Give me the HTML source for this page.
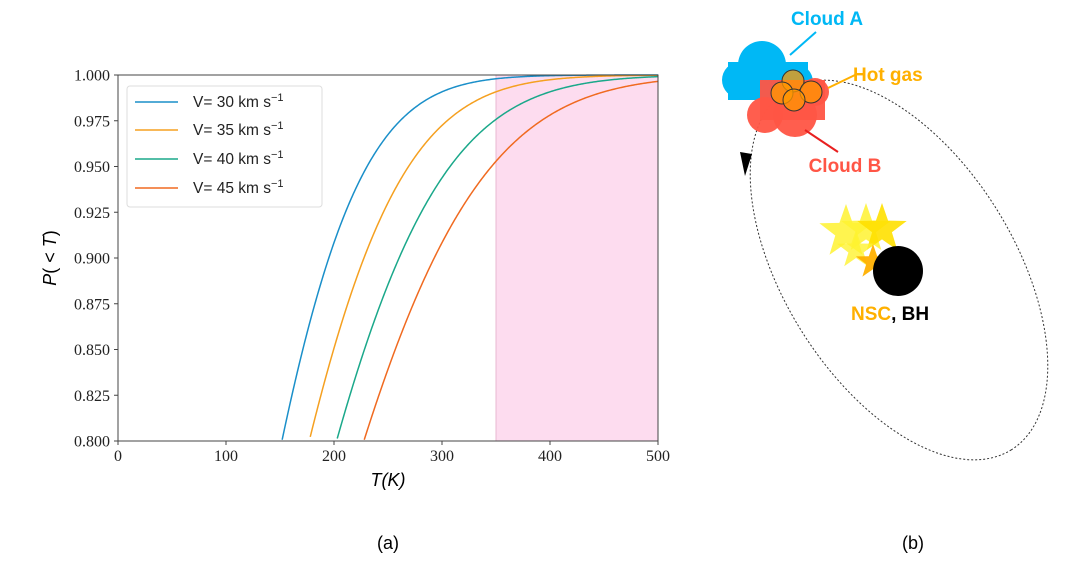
<!DOCTYPE html>
<html><head><meta charset="utf-8"><style>
body{margin:0;background:#fff;}
.serif{font-family:"Liberation Serif",serif;}
.s,.s text{font-family:"Liberation Sans","DejaVu Sans",sans-serif;}
</style></head><body>
<svg id="g" width="1080" height="565" viewBox="0 0 1080 565" xmlns="http://www.w3.org/2000/svg">
<rect width="1080" height="565" fill="#fff"/>
<rect x="496" y="75" width="162" height="366" fill="#fddcef"/>
<line x1="496" y1="75" x2="496" y2="441" stroke="#e8b8d0" stroke-width="1"/>
<g id="curves" fill="none" stroke-width="1.5"></g>
<rect x="118" y="75" width="540" height="366" fill="none" stroke="#444" stroke-width="1"/>
<g id="ticks" stroke="#444" stroke-width="1"></g>
<g id="labels" font-size="16" fill="#222" class="serif"></g>
<text x="388" y="486" font-size="18" text-anchor="middle" font-style="italic" class="s">T(K)</text>
<text transform="translate(56,258) rotate(-90)" font-size="18" text-anchor="middle" class="s"><tspan font-style="italic">P</tspan>( &lt; <tspan font-style="italic">T</tspan>)</text>
<rect x="127" y="86" width="195" height="121" rx="3" fill="#fff" fill-opacity="0.85" stroke="#ddd"/>
<g class="s" font-size="15.5" fill="#222">
<line x1="135" y1="102" x2="178" y2="102" stroke="#1a8fc9" stroke-width="1.5"/><text x="193" y="107">V= 30 km s<tspan dy="-6" font-size="11">−1</tspan></text>
<line x1="135" y1="130" x2="178" y2="130" stroke="#f5a020" stroke-width="1.5"/><text x="193" y="135">V= 35 km s<tspan dy="-6" font-size="11">−1</tspan></text>
<line x1="135" y1="159" x2="178" y2="159" stroke="#1aa88a" stroke-width="1.5"/><text x="193" y="164">V= 40 km s<tspan dy="-6" font-size="11">−1</tspan></text>
<line x1="135" y1="188" x2="178" y2="188" stroke="#f06a20" stroke-width="1.5"/><text x="193" y="193">V= 45 km s<tspan dy="-6" font-size="11">−1</tspan></text>
</g>
<text x="388" y="549" font-size="18" text-anchor="middle" class="s">(a)</text>
<text x="913" y="549" font-size="18" text-anchor="middle" class="s">(b)</text>

<!-- panel b -->
<ellipse cx="899" cy="270" rx="212" ry="115" transform="rotate(58 899 270)" fill="none" stroke="#333" stroke-width="1" stroke-dasharray="2,2"/>
<polygon points="745,176 740,152 752,154" fill="#000"/>
<g fill="#00b8f5">
<circle cx="762" cy="65" r="24"/><circle cx="740" cy="80" r="18"/><circle cx="795" cy="82" r="18"/><rect x="728" y="62" width="80" height="38"/>
</g>
<line x1="790" y1="55" x2="816" y2="32" stroke="#00b8f5" stroke-width="2"/>
<g fill="#ff5545" fill-opacity="0.95">
<circle cx="765" cy="115" r="18"/><circle cx="795" cy="115" r="22"/><circle cx="815" cy="92" r="14"/><rect x="760" y="80" width="65" height="40"/>
</g>
<line x1="805" y1="130" x2="838" y2="152" stroke="#e82020" stroke-width="2"/>
<line x1="828" y1="88" x2="855" y2="75" stroke="#ffb000" stroke-width="2"/>
<g fill="#ff9800" fill-opacity="0.75" stroke="#333" stroke-width="1">
<circle cx="793" cy="81" r="11"/><circle cx="782" cy="93" r="11"/><circle cx="811" cy="92" r="11"/><circle cx="794" cy="100" r="11"/>
</g>
<g id="stars"></g>
<circle cx="898" cy="271" r="25" fill="#000"/>
<g class="s" font-weight="bold" font-size="19">
<text x="827" y="25" text-anchor="middle" fill="#00b8f5">Cloud A</text>
<text x="853" y="81" fill="#ffb000">Hot gas</text>
<text x="845" y="172" text-anchor="middle" fill="#ff5545">Cloud B</text>
<text x="851" y="320" fill="#ffb000">NSC<tspan fill="#000">, BH</tspan></text>
</g>
</svg>
<script>
var ns="http://www.w3.org/2000/svg";
function X(t){return 118+t*1.08;}
function Y(p){return 75+(1-p)/0.025*45.75;}
var cols={30:"#1a8fc9",35:"#f5a020",40:"#1aa88a",45:"#f06a20"};
var cg=document.getElementById("curves");
[30,35,40,45].forEach(function(V){
 var d="",first=true;
 for(var t=100;t<=500;t+=1){
  var tp=t*30/V; var p=1-Math.exp(-0.55-4.6e-5*tp*tp);
  if(p<0.8)continue;
  d+=(first?"M":"L")+X(t).toFixed(2)+","+Y(p).toFixed(2);first=false;
 }
 var e=document.createElementNS(ns,"path");e.setAttribute("d",d);e.setAttribute("stroke",cols[V]);cg.appendChild(e);
});
var tg=document.getElementById("ticks"),lg=document.getElementById("labels");
for(var i=0;i<=8;i++){
 var p=0.8+i*0.025,y=Y(p);
 var l=document.createElementNS(ns,"line");l.setAttribute("x1",114);l.setAttribute("x2",118);l.setAttribute("y1",y);l.setAttribute("y2",y);tg.appendChild(l);
 var t=document.createElementNS(ns,"text");t.setAttribute("x",110);t.setAttribute("y",y+5.5);t.setAttribute("text-anchor","end");t.textContent=p.toFixed(3);lg.appendChild(t);
}
for(var k=0;k<=5;k++){
 var x=X(k*100);
 var l=document.createElementNS(ns,"line");l.setAttribute("x1",x);l.setAttribute("x2",x);l.setAttribute("y1",441);l.setAttribute("y2",445);tg.appendChild(l);
 var t=document.createElementNS(ns,"text");t.setAttribute("x",x);t.setAttribute("y",461);t.setAttribute("text-anchor","middle");t.textContent=k*100;lg.appendChild(t);
}
function star(cx,cy,R,c,o){
 var pts=[];for(var i=0;i<10;i++){var r=i%2?R*0.4:R;var a=-Math.PI/2+i*Math.PI/5;pts.push((cx+r*Math.cos(a)).toFixed(1)+","+(cy+r*Math.sin(a)).toFixed(1));}
 var s=document.createElementNS(ns,"polygon");s.setAttribute("points",pts.join(" "));s.setAttribute("fill",c);s.setAttribute("fill-opacity",o);document.getElementById("stars").appendChild(s);
}
star(846,232,28,"#fff230",0.85);star(866,229,26,"#fff230",0.85);star(882,229,26,"#ffe000",0.9);star(856,250,20,"#fff230",0.8);star(873,262,18,"#ffb000",0.95);
</script>
</body></html>
